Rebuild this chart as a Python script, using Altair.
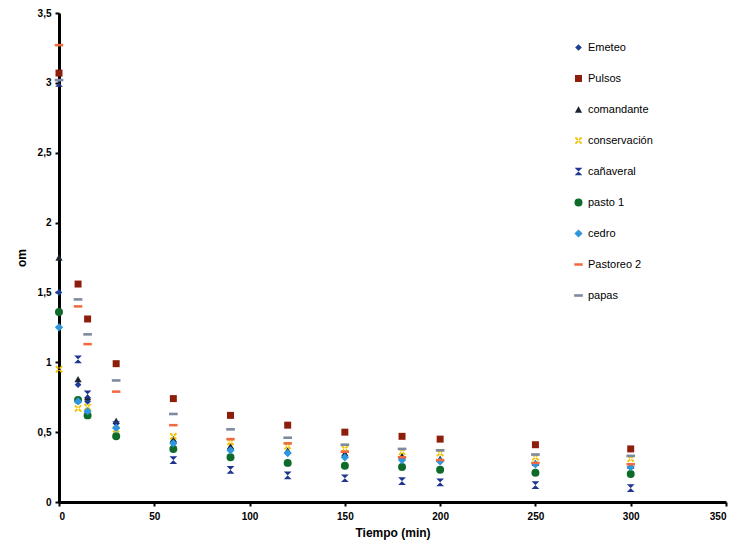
import altair as alt
import pandas as pd

tiempo = [0, 10, 15, 30, 60, 90, 120, 150, 180, 200, 250, 300]

series_names = ["Emeteo", "Pulsos", "comandante", "conservación", "cañaveral",
                "pasto 1", "cedro", "Pastoreo 2", "papas"]

emeteo =       [1.50, 0.84, 0.72, 0.56, 0.43, 0.38, 0.35, 0.33, 0.31, 0.29, 0.27, 0.25]
pulsos =       [3.07, 1.56, 1.31, 0.99, 0.74, 0.62, 0.55, 0.50, 0.47, 0.45, 0.41, 0.38]
comandante =   [1.75, 0.88, 0.75, 0.58, 0.45, 0.40, 0.37, 0.35, 0.33, 0.31, 0.28, 0.26]
conservacion = [0.95, 0.67, 0.68, 0.52, 0.47, 0.43, 0.40, 0.38, 0.36, 0.35, 0.32, 0.31]
canaveral =    [3.00, 1.02, 0.77, 0.55, 0.30, 0.23, 0.19, 0.17, 0.15, 0.14, 0.12, 0.10]
pasto1 =       [1.36, 0.73, 0.62, 0.47, 0.38, 0.32, 0.28, 0.26, 0.25, 0.23, 0.21, 0.20]
cedro =        [1.25, 0.72, 0.65, 0.53, 0.42, 0.37, 0.35, 0.32, 0.30, 0.29, 0.27, 0.25]
pastoreo2 =    [3.27, 1.40, 1.13, 0.79, 0.55, 0.45, 0.42, 0.36, 0.32, 0.30, 0.28, 0.27]
papas =        [3.02, 1.45, 1.20, 0.87, 0.63, 0.52, 0.46, 0.41, 0.38, 0.37, 0.34, 0.33]

all_values = [emeteo, pulsos, comandante, conservacion, canaveral,
              pasto1, cedro, pastoreo2, papas]

x_ticks = [0, 50, 100, 150, 200, 250, 300, 350]
y_ticks = [0, 0.5, 1, 1.5, 2, 2.5, 3, 3.5]

rows = []
for name, vals in zip(series_names, all_values):
    for t, v in zip(tiempo, vals):
        rows.append({"serie": name, "tiempo": t, "om": v})
df = pd.DataFrame(rows)

colors = ["#1c3f95", "#8e1e0c", "#1b2430", "#f2c200", "#1f3590",
          "#0e6b2a", "#2f96e0", "#f06a40", "#7d8aa0"]

x_path = "M-1,-0.65L-0.65,-1L1,0.65L0.65,1Z M1,-0.65L0.65,-1L-1,0.65L-0.65,1Z"
hourglass = "M-1,-1L1,-1L-1,1L1,1Z"
dash = "M-1,-0.3L1,-0.3L1,0.3L-1,0.3Z"
shapes = ["diamond", "square", "triangle-up", x_path, hourglass,
          "circle", "diamond", dash, dash]
sizes = [45, 75, 45, 45, 50, 60, 30, 20, 30]

font = "Liberation Sans"

chart = alt.Chart(df).mark_point(filled=True, opacity=1).encode(
    x=alt.X("tiempo:Q", title="Tiempo (min)",
            scale=alt.Scale(domain=[0, 350], nice=False),
            axis=alt.Axis(values=x_ticks, format="d")),
    y=alt.Y("om:Q", title="om",
            scale=alt.Scale(domain=[0, 3.5], nice=False),
            axis=alt.Axis(values=y_ticks, titleX=-31,
                          labelExpr="replace(format(datum.value, '.2~f'), '.', ',')")),
    color=alt.Color("serie:N", title=None,
                    scale=alt.Scale(domain=series_names, range=colors),
                    sort=series_names),
    shape=alt.Shape("serie:N", title=None,
                    scale=alt.Scale(domain=series_names, range=shapes),
                    sort=series_names),
    size=alt.Size("serie:N", title=None,
                  scale=alt.Scale(domain=series_names, range=sizes),
                  sort=series_names),
).properties(
    width=667,
    height=489,
    padding={"left": 7, "top": 0, "right": 5, "bottom": 4},
    background="white",
).configure_view(
    stroke=None
).configure_axis(
    grid=False,
    domainColor="black",
    domainWidth=3,
    tickColor="black",
    tickWidth=2,
    tickSize=4,
    labelFont=font,
    labelFontSize=10,
    labelFontWeight="bold",
    labelColor="black",
    titleFont=font,
    titleFontSize=12,
    titleFontWeight="bold",
    titleColor="black",
).configure_axisY(
    labelPadding=4,
).configure_axisX(
    titlePadding=6,
    labelPadding=5,
).configure_legend(
    orient="none",
    legendX=514,
    legendY=29,
    labelFont=font,
    labelFontSize=11,
    labelColor="black",
    rowPadding=19,
    symbolStrokeWidth=0,
)

chart.save("out.html", embed_options={"renderer": "svg", "actions": False})
